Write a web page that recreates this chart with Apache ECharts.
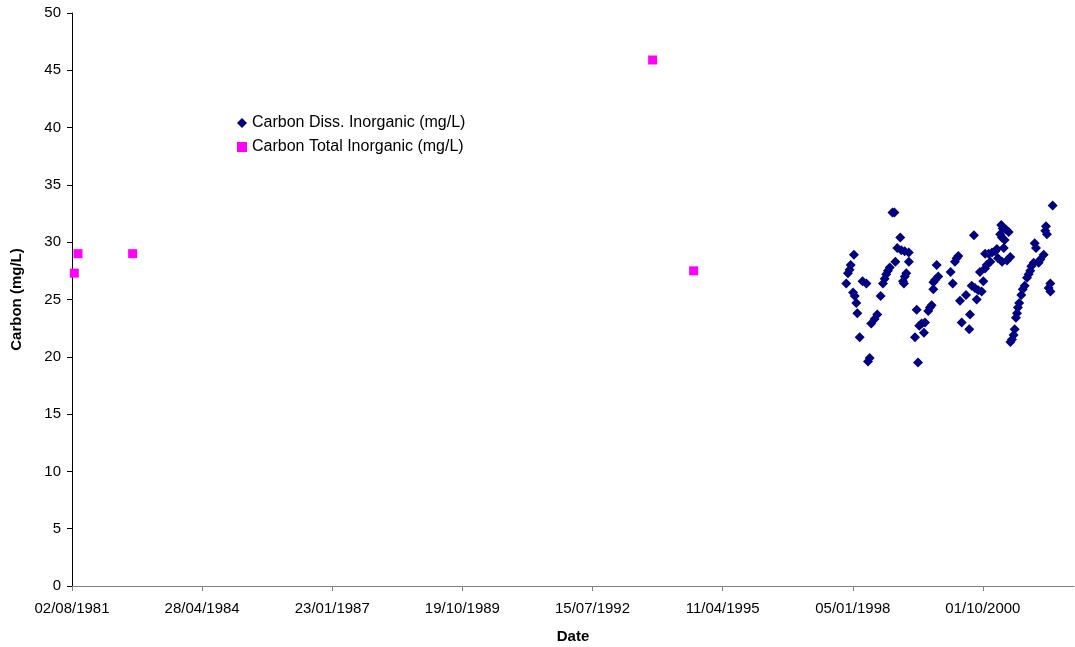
<!DOCTYPE html>
<html>
<head>
<meta charset="utf-8">
<script src="https://cdn.jsdelivr.net/npm/echarts@6/dist/echarts.min.js"></script>
<style>html,body{margin:0;padding:0;background:#fff}#chart{width:1075px;height:647px}</style>
</head>
<body>
<div id="chart"></div>
<script>
// ---- data ----
const dissName = 'Carbon Diss. Inorganic (mg/L)';
const totalName = 'Carbon Total Inorganic (mg/L)';

const dissDates = [
'1997-11-16','1997-11-29','1997-12-12','1997-12-20','1998-01-07','1998-01-14','1998-01-20','1998-02-01','1998-02-09','1998-02-27',
'1998-03-21','1998-04-20','1998-05-02','1998-05-15','1998-05-27','1998-06-22','1998-07-12','1998-08-07','1998-08-25','1998-09-07',
'1998-09-19','1998-10-02','1998-10-16','1998-11-06','1998-11-21','1998-11-28','1998-12-13','1999-01-05','1999-01-13','1999-01-26',
'1999-02-02','1999-02-08','1999-02-09','1999-02-20','1999-03-11','1999-03-12','1999-04-28','1999-05-11','1999-05-21','1999-05-31',
'1999-06-18','1999-07-06','1999-07-14','1999-08-08','1999-08-21','1999-09-03','1999-09-16','1999-09-17','1999-09-29','1999-10-12',
'1999-10-24','2000-01-27','2000-02-12','2000-02-29','2000-03-13','2000-03-26','2000-04-08','2000-04-21','2000-05-24','2000-06-18',
'2000-06-24','2000-07-07','2000-07-24','2000-08-01','2000-08-14','2000-08-26','2000-09-08','2000-09-21','2000-10-04','2000-10-17',
'2000-10-18','2000-10-30','2000-11-14','2000-11-27','2000-12-10','2001-01-04','2001-01-17','2001-01-25','2001-02-11','2001-02-19',
'2001-02-24','2001-02-25','2001-03-02','2001-03-10','2001-03-17','2001-03-27','2001-04-04','2001-04-17','2001-04-29','2001-04-30',
'2001-05-12','2001-05-25','2001-06-02','2001-06-12','2001-06-20','2001-06-27','2001-07-07','2001-07-23','2001-08-03','2001-08-18',
'2001-09-05','2001-09-18','2001-09-30','2001-10-08','2001-10-26','2001-11-03','2001-11-13','2001-12-03','2001-12-16','2002-01-11',
'2002-01-23','2002-01-29','2002-02-05','2002-02-18','2002-03-03','2002-03-04','2002-03-21'
];
const dissValues = [
26.4,27.3,27.6,28.0,25.6,28.9,25.3,24.7,23.8,21.7,
26.6,26.4,19.6,19.9,22.9,23.3,23.7,25.3,26.4,26.8,
27.2,27.5,27.8,32.6,32.6,28.3,29.5,30.4,29.3,26.6,
26.4,29.2,27.0,27.3,29.1,28.3,21.7,24.1,19.5,22.7,
22.9,22.1,23.0,24.0,24.3,24.5,25.9,26.5,26.7,28.0,
27.0,27.4,26.4,28.3,28.6,28.8,24.9,23.0,25.4,22.4,
23.7,26.2,30.6,26.0,25.0,25.8,27.4,25.7,26.6,27.7,
29.0,28.0,29.0,28.3,29.1,29.2,29.4,28.6,30.7,31.5,
30.4,28.3,31.2,29.5,30.2,31.1,28.4,30.9,28.7,21.3,
21.5,21.9,22.4,23.4,23.8,24.3,24.7,25.4,25.9,26.2,
26.9,27.2,27.5,27.9,28.2,29.9,29.5,28.2,28.5,28.9,
31.0,31.4,30.7,26.0,26.4,25.7,33.2
];

const totalDates = ['1981-08-20','1981-09-17','1982-11-11','1993-10-20','1994-08-31'];
const totalValues = [27.3,29.0,29.0,45.9,27.5];

// axis settings
const axisStartDate = '1981-08-02';
const xTickStepDays = 1000;
const xMaxDays = 7700;
const yMin = 0, yMax = 50, yStep = 5;

// ---- helpers ----
const DAY = 86400000;
const startMs = Date.parse(axisStartDate + 'T00:00:00Z');
function toDays(s) { return (Date.parse(s + 'T00:00:00Z') - startMs) / DAY; }
function fmt(days) {
  const d = new Date(startMs + Math.round(days) * DAY);
  const p = n => (n < 10 ? '0' : '') + n;
  return p(d.getUTCDate()) + '/' + p(d.getUTCMonth() + 1) + '/' + d.getUTCFullYear();
}
const dissData = dissDates.map((d, i) => [toDays(d), dissValues[i]]);
const totalData = totalDates.map((d, i) => [toDays(d), totalValues[i]]);

const FONT = "'Liberation Sans', Arial, sans-serif";
const chart = echarts.init(document.getElementById('chart'), null, { renderer: 'canvas' });
chart.setOption({
  animation: false,
  backgroundColor: '#ffffff',
  grid: { left: 72, right: 1, top: 13, bottom: 61, containLabel: false, outerBoundsMode: 'none' },
  legend: {
    orient: 'vertical',
    left: 232,
    top: 110,
    itemWidth: 10,
    itemHeight: 10,
    itemGap: 8,
    textStyle: { fontFamily: FONT, fontSize: 16, color: '#000' },
    data: [
      { name: dissName, icon: 'diamond' },
      { name: totalName, icon: 'rect' }
    ]
  },
  xAxis: {
    type: 'value',
    min: 0,
    max: xMaxDays,
    interval: xTickStepDays,
    name: 'Date',
    nameLocation: 'middle',
    nameGap: 43,
    nameTextStyle: { fontFamily: FONT, fontSize: 15, fontWeight: 'bold', color: '#000' },
    axisLine: { show: true, onZero: false, lineStyle: { color: '#808080', width: 1 } },
    axisTick: { show: true, inside: false, length: 5, lineStyle: { color: '#808080' } },
    splitLine: { show: false },
    axisLabel: {
      fontFamily: FONT, fontSize: 15, color: '#000', margin: 15,
      showMaxLabel: false,
      formatter: v => (v % xTickStepDays === 0 ? fmt(v) : '')
    }
  },
  yAxis: {
    type: 'value',
    min: yMin,
    max: yMax,
    interval: yStep,
    name: 'Carbon (mg/L)',
    nameLocation: 'middle',
    nameRotate: 90,
    nameGap: 48,
    nameTextStyle: { fontFamily: FONT, fontSize: 15, fontWeight: 'bold', color: '#000' },
    axisLine: { show: true, lineStyle: { color: '#000', width: 1 } },
    axisTick: { show: true, inside: false, length: 5, lineStyle: { color: '#000' } },
    splitLine: { show: false },
    axisLabel: { fontFamily: FONT, fontSize: 15, color: '#000', margin: 11 }
  },
  series: [
    {
      name: dissName,
      type: 'scatter',
      symbol: 'diamond',
      symbolSize: 10,
      itemStyle: { color: '#000080', opacity: 1 },
      data: dissData
    },
    {
      name: totalName,
      type: 'scatter',
      symbol: 'rect',
      symbolSize: 9,
      itemStyle: { color: '#ff00ff', opacity: 1 },
      data: totalData
    }
  ]
});
</script>
</body>
</html>
